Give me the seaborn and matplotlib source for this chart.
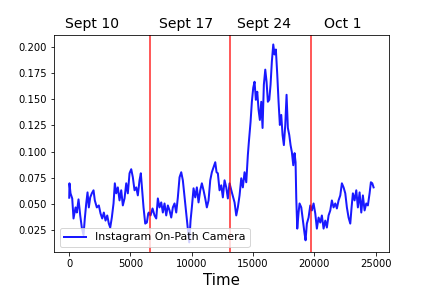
import numpy as np
import matplotlib
matplotlib.use("Agg")
import matplotlib.pyplot as plt
import matplotlib.transforms as mtransforms
import seaborn as sns

# values
time = [0, 20, 106, 245, 351, 514, 620, 759, 898, 1028, 1167, 1273, 1388, 1494,
        1600, 1714, 1845, 1983, 2089, 2253, 2416, 2555, 2693, 2824, 2963, 3102,
        3232, 3346, 3477, 3616, 3722, 3836, 3967, 4105, 4244, 4375, 4514, 4652,
        4783, 4922, 5060, 5191, 5330, 5469, 5599, 5738, 5844, 5958, 6064, 6203,
        6334, 6448, 6497, 6636, 6799, 6962, 7101, 7232, 7370, 7509, 7640, 7778,
        7917, 8048, 8186, 8325, 8456, 8594, 8733, 8864, 9003, 9141, 9272, 9411,
        9550, 9680, 9794, 9901, 10007, 10146, 10284, 10415, 10553, 10692, 10823,
        10962, 11100, 11231, 11370, 11508, 11639, 11778, 11917, 12023, 12129,
        12267, 12406, 12537, 12676, 12814, 12945, 13084, 13271, 13492, 13631,
        13761, 13900, 14039, 14169, 14308, 14447, 14577, 14659, 14798, 14904,
        15018, 15124, 15230, 15345, 15451, 15557, 15671, 15777, 15883, 15998,
        16104, 16210, 16324, 16430, 16536, 16651, 16757, 16863, 16977, 17083,
        17189, 17303, 17409, 17516, 17630, 17736, 17842, 17956, 18062, 18168,
        18283, 18389, 18471, 18528, 18609, 18716, 18797, 18936, 19067, 19205,
        19287, 19393, 19532, 19671, 19801, 19940, 20079, 20209, 20348, 20487,
        20617, 20756, 20895, 21025, 21164, 21303, 21433, 21572, 21711, 21842,
        21980, 22119, 22250, 22388, 22527, 22658, 22796, 22935, 23041, 23148,
        23287, 23425, 23556, 23695, 23833, 23964, 24103, 24241, 24372, 24511,
        24617, 24731, 24837]
camera = [0.0558, 0.0696, 0.0600, 0.0551, 0.0359, 0.0465, 0.0416, 0.0542, 0.0388,
          0.0272, 0.0200, 0.0359, 0.0503, 0.0609, 0.0465, 0.0561, 0.0600, 0.0629,
          0.0532, 0.0465, 0.0484, 0.0407, 0.0359, 0.0416, 0.0339, 0.0388, 0.0310,
          0.0272, 0.0368, 0.0503, 0.0696, 0.0600, 0.0657, 0.0532, 0.0629, 0.0484,
          0.0551, 0.0696, 0.0600, 0.0792, 0.0831, 0.0754, 0.0629, 0.0657, 0.0580,
          0.0725, 0.0792, 0.0629, 0.0465, 0.0310, 0.0320, 0.0407, 0.0416, 0.0388,
          0.0455, 0.0388, 0.0359, 0.0551, 0.0465, 0.0513, 0.0416, 0.0503, 0.0388,
          0.0484, 0.0436, 0.0368, 0.0465, 0.0503, 0.0416, 0.0561, 0.0754, 0.0802,
          0.0725, 0.0561, 0.0407, 0.0262, 0.0130, 0.0339, 0.0465, 0.0648, 0.0561,
          0.0657, 0.0513, 0.0629, 0.0696, 0.0629, 0.0551, 0.0465, 0.0532, 0.0725,
          0.0802, 0.0850, 0.0898, 0.0802, 0.0792, 0.0629, 0.0677, 0.0561, 0.0725,
          0.0657, 0.0551, 0.0696, 0.0609, 0.0513, 0.0388, 0.0465, 0.0580, 0.0744,
          0.0657, 0.0802, 0.0706, 0.0966, 0.1091, 0.1284, 0.1477, 0.1612, 0.1669,
          0.1496, 0.1573, 0.1400, 0.1303, 0.1477, 0.1226, 0.1641, 0.1785, 0.1669,
          0.1477, 0.1496, 0.1641, 0.1862, 0.2026, 0.1930, 0.1978, 0.1737, 0.1477,
          0.1255, 0.1351, 0.1159, 0.1062, 0.1255, 0.1544, 0.1226, 0.1159, 0.1062,
          0.0995, 0.0869, 0.0985, 0.0898, 0.0551, 0.0262, 0.0416, 0.0503, 0.0465,
          0.0339, 0.0214, 0.0150, 0.0310, 0.0368, 0.0484, 0.0436, 0.0503, 0.0407,
          0.0262, 0.0368, 0.0320, 0.0388, 0.0262, 0.0339, 0.0272, 0.0388, 0.0436,
          0.0532, 0.0465, 0.0503, 0.0455, 0.0532, 0.0580, 0.0696, 0.0657, 0.0600,
          0.0465, 0.0368, 0.0310, 0.0465, 0.0600, 0.0532, 0.0629, 0.0465, 0.0609,
          0.0416, 0.0580, 0.0436, 0.0503, 0.0484, 0.0600, 0.0706, 0.0696, 0.0657]

week_starts = [6560, 13160, 19730]
week_labels = ["Sept 10", "Sept 17", "Sept 24", "Oct 1"]
label_pos = [1820, 9574, 15940, 22307]

fig, ax = plt.subplots(figsize=(6, 4), dpi=72)
fig.subplots_adjust(left=0.125, right=0.9, top=0.88, bottom=0.124)

sns.lineplot(x=time, y=camera, color='blue', linewidth=2.0, alpha=0.9,
             label='Instagram On-Path Camera', estimator=None, ax=ax)

# week boundaries
for xv in week_starts:
    ax.axvline(xv, color='red', alpha=0.8, linewidth=1.6)

trans = mtransforms.blended_transform_factory(ax.transData, ax.transAxes)
for xp, lab in zip(label_pos, week_labels):
    ax.text(xp, 1.015, lab, transform=trans, ha='center', va='bottom', fontsize=14)

ax.set_xlabel("Time", fontsize=15)
ax.set_yticks([0.025, 0.050, 0.075, 0.100, 0.125, 0.150, 0.175, 0.200])
ax.legend(loc='lower left', fontsize=11)

plt.savefig("out.png", dpi=72)
plt.close()
